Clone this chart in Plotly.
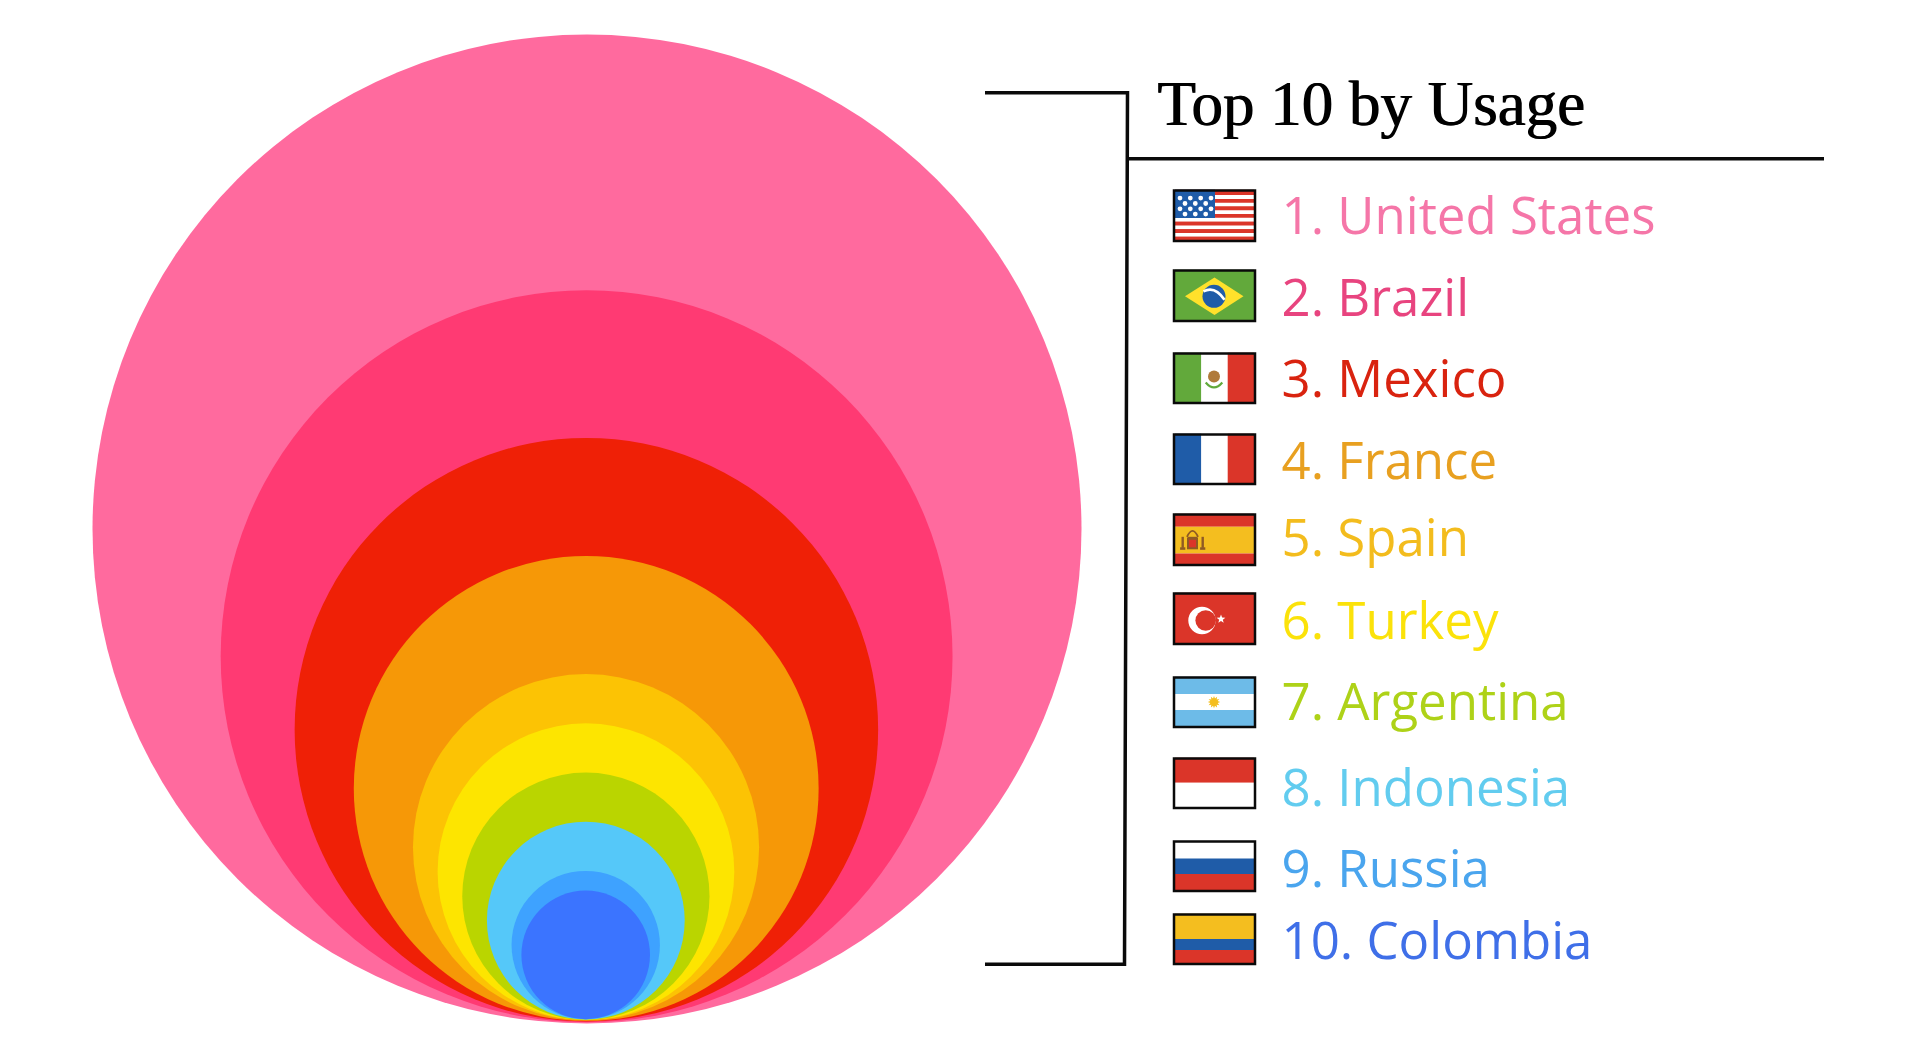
import math
import plotly.graph_objects as go

# ---------- data ----------
countries = ["United States", "Brazil", "Mexico", "France", "Spain",
             "Turkey", "Argentina", "Indonesia", "Russia", "Colombia"]
usage = [100, 74, 59, 47, 35, 30, 25, 20, 15, 13]
circle_colors = ["#FF6A9E", "#FF3A73", "#EF2006", "#F69807", "#FCC304",
                 "#FDE500", "#BAD500", "#55C8F9", "#3EA2FF", "#3B74FF"]
text_colors = ["#F576A8", "#E8447F", "#D9230F", "#E8A020", "#F3BC1D",
               "#FBE20A", "#AED218", "#62CCEF", "#4AA5EE", "#3F6FE8"]
title_text = "Top 10 by Usage"

# ---------- layout constants (page pixels) ----------
W, H = 1920, 1059
PAGE = 8                # default body margin of the written page
YSHIFT = 0.8
D_SCALE = 9.89          # px of diameter per usage point
label_y = [220.7, 302.7, 383.7, 465.7, 542.7, 625.2, 706.2, 792.7, 873.7, 945.7]
flag_top = [189, 269, 352, 433, 513, 592, 676, 757, 840, 913]
flag_bot = [241, 321, 403, 484, 565, 644, 727, 808, 891, 964]
FX0, FX1 = 1174, 1255
ix0, ix1 = FX0 + 1, FX1 - 1

RED, BLUE, GREEN = "#DB3529", "#1F5CA8", "#62A93B"
YEL, SKY, WHITE, BROWN = "#F4BE1F", "#6DBBE8", "#FFFFFF", "#8F5A24"

shapes = []


def rect(x0, y0, x1, y1, color):
    shapes.append(dict(type="rect", x0=x0, y0=y0, x1=x1, y1=y1, fillcolor=color,
                       line=dict(width=0), layer="below"))


def circ(cx, cy, r, color):
    shapes.append(dict(type="circle", x0=cx - r, y0=cy - r, x1=cx + r, y1=cy + r,
                       fillcolor=color, line=dict(width=0), layer="below"))


def path(d, stroke=None, width=0, fill=None):
    s = dict(type="path", path=d, layer="below", line=dict(width=width, color=stroke or "rgba(0,0,0,0)"))
    if fill:
        s["fillcolor"] = fill
    shapes.append(s)


def star(cx, cy, ro, ri, n, color):
    pts = []
    for k in range(2 * n):
        r = ro if k % 2 == 0 else ri
        a = -math.pi / 2 + k * math.pi / n
        pts.append(f"{cx + r * math.cos(a):.2f},{cy + r * math.sin(a):.2f}")
    path("M " + " L ".join(pts) + " Z", fill=color)


def hbands(i, stops):
    """stops: list of (lower edge y, colour)"""
    y = flag_top[i]
    for edge, col in stops:
        rect(ix0, y, ix1, edge, col)
        y = edge


def vbands(i, c1, c2, c3):
    y0, y1 = flag_top[i], flag_bot[i]
    rect(ix0, y0, 1201.3, y1, c1)
    rect(1201.3, y0, 1227.7, y1, c2)
    rect(1227.7, y0, ix1, y1, c3)


# United States
y0, y1 = 190.5, 239.8
sh = (y1 - y0) / 13
rect(ix0, flag_top[0], ix1, flag_bot[0], RED)
for k in range(13):
    rect(ix0, y0 + k * sh, ix1, y0 + (k + 1) * sh, RED if k % 2 == 0 else WHITE)
rect(ix0, flag_top[0], 1215, 217.3, BLUE)
for row, yy in enumerate([197.3, 202.7, 208, 213.3]):
    xs = [1180, 1190.3, 1200.7, 1211] if row % 2 == 0 else [1185, 1195.3, 1205.7]
    for xx in xs:
        circ(xx, yy, 2.4, WHITE)

# Brazil
rect(ix0, flag_top[1], ix1, flag_bot[1], GREEN)
path("M 1185,295.5 L 1214.5,276.7 L 1243.5,295.5 L 1214.5,314.3 Z", fill="#FFE12B")
circ(1214, 295.5, 11.5, BLUE)
path("M 1203.5,290.5 Q 1215,284.5 1224.5,299", stroke=WHITE, width=2.6)

# Mexico
vbands(2, GREEN, WHITE, RED)
circ(1214, 375.7, 6, "#B07A3A")
path("M 1205.7,381.7 Q 1214,391.5 1222.3,381.7", stroke=GREEN, width=2.2)

# France
vbands(3, BLUE, WHITE, RED)

# Spain
hbands(4, [(526, RED), (552.7, YEL), (flag_bot[4], RED)])
for px in (1182.7, 1202.7):
    rect(px - 1.2, 536, px + 1.2, 547, BROWN)
    rect(px - 2.6, 546.5, px + 2.6, 549, BROWN)
rect(1187, 537, 1198, 548.5, BROWN)
rect(1189, 539, 1196, 546.5, RED)
path("M 1187,536 Q 1192.5,524 1198,536", stroke=BROWN, width=1.8)
rect(1187.5, 536, 1197.5, 537.5, BROWN)

# Turkey
rect(ix0, flag_top[5], ix1, flag_bot[5], RED)
circ(1202, 619.7, 13.7, WHITE)
circ(1205.7, 619.7, 10.3, RED)
star(1221, 618.3, 4.6, 1.9, 5, WHITE)

# Argentina
hbands(6, [(693.3, SKY), (709.3, WHITE), (flag_bot[6], SKY)])
star(1214, 701.3, 6.2, 3.8, 12, YEL)

# Indonesia
hbands(7, [(782, RED), (flag_bot[7], WHITE)])

# Russia
hbands(8, [(857.7, WHITE), (873.3, BLUE), (flag_bot[8], RED)])

# Colombia
hbands(9, [(938.3, YEL), (949.3, BLUE), (flag_bot[9], RED)])

# flag borders
for t, b in zip(flag_top, flag_bot):
    shapes.append(dict(type="rect", x0=FX0, y0=t + 0.8, x1=FX1, y1=b - 0.8,
                       line=dict(color="#0A0A0A", width=2.5), fillcolor="rgba(0,0,0,0)", layer="below"))

# bracket and title rule
path("M 985,92 L 1127.5,92 L 1124.5,963.5 L 985,963.5", stroke="#0A0A0A", width=3.5)
path("M 1126,158 L 1824,158", stroke="#0A0A0A", width=3.5)

# ---------- traces ----------
diam = [v * D_SCALE for v in usage]
cx = [585.5 + 0.015 * v for v in usage]
cy = [1017.7 + 0.05 * v - d / 2 for v, d in zip(usage, diam)]

fig = go.Figure()
fig.add_trace(go.Scatter(
    x=cx, y=cy, mode="markers", hoverinfo="text", text=countries,
    marker=dict(size=diam, sizemode="diameter", sizeref=1, color=circle_colors,
                opacity=1, line=dict(width=0)),
    cliponaxis=False, showlegend=False,
))
fig.add_trace(go.Scatter(
    x=[1281.5] * len(countries), y=label_y, mode="text",
    text=[f"{i + 1}. {c}" for i, c in enumerate(countries)],
    textposition="middle right",
    textfont=dict(family="Open Sans", size=51, color=text_colors),
    cliponaxis=False, showlegend=False, hoverinfo="skip",
))

fig.add_annotation(x=1155, y=103, xref="x", yref="y", text=title_text, showarrow=False,
                   xanchor="left", yanchor="middle",
                   font=dict(family="Liberation Serif", size=63, color="#000000",
                             shadow="1px 0 0 #000000"))

fig.update_layout(
    width=W - 2 * PAGE, height=H - 2 * PAGE,
    margin=dict(l=0, r=0, t=0, b=0),
    paper_bgcolor="#FFFFFF", plot_bgcolor="#FFFFFF",
    shapes=shapes,
    xaxis=dict(range=[PAGE, W - PAGE], visible=False, fixedrange=True),
    yaxis=dict(range=[H - PAGE - YSHIFT, PAGE - YSHIFT], visible=False, fixedrange=True),
)
fig.write_html("out.html")
